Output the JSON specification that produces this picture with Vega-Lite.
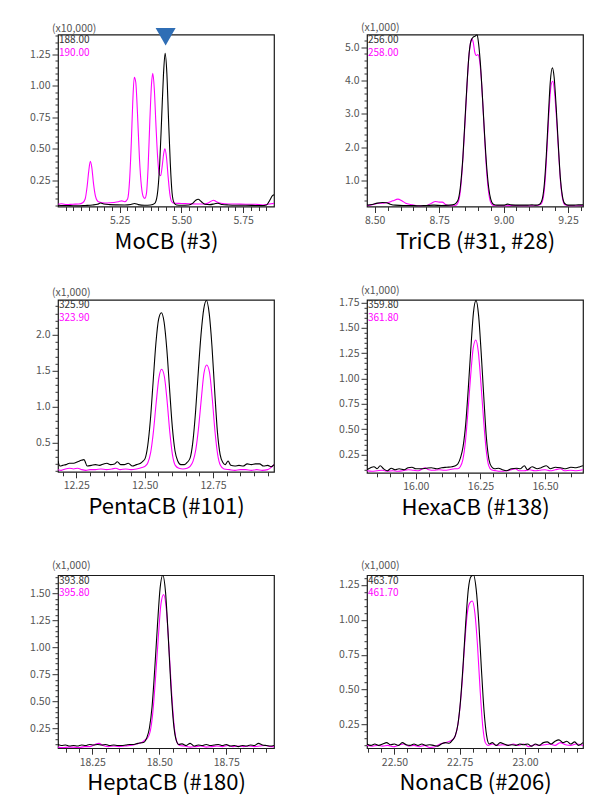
{
  "$schema": "https://vega.github.io/schema/vega-lite/v6.json",
  "padding": {"left": 27, "top": 21.5, "right": 5, "bottom": 5},
  "background": "white",
  "datasets": {
    "p1": [
      {"t":5.000,"y":0.050,"s":"k"},{"t":5.020,"y":0.048,"s":"k"},{"t":5.050,"y":0.047,"s":"k"},{"t":5.080,"y":0.045,"s":"k"},{"t":5.110,"y":0.048,"s":"k"},{"t":5.140,"y":0.052,"s":"k"},{"t":5.160,"y":0.058,"s":"k"},{"t":5.172,"y":0.068,"s":"k"},{"t":5.185,"y":0.060,"s":"k"},{"t":5.210,"y":0.055,"s":"k"},{"t":5.240,"y":0.053,"s":"k"},{"t":5.270,"y":0.052,"s":"k"},{"t":5.295,"y":0.056,"s":"k"},{"t":5.310,"y":0.064,"s":"k"},{"t":5.325,"y":0.055,"s":"k"},{"t":5.350,"y":0.050,"s":"k"},{"t":5.375,"y":0.052,"s":"k"},{"t":5.392,"y":0.065,"s":"k"},{"t":5.402,"y":0.13,"s":"k"},{"t":5.412,"y":0.38,"s":"k"},{"t":5.420,"y":0.75,"s":"k"},{"t":5.427,"y":1.08,"s":"k"},{"t":5.434,"y":1.26,"s":"k"},{"t":5.441,"y":1.10,"s":"k"},{"t":5.448,"y":0.72,"s":"k"},{"t":5.455,"y":0.38,"s":"k"},{"t":5.462,"y":0.15,"s":"k"},{"t":5.470,"y":0.07,"s":"k"},{"t":5.480,"y":0.052,"s":"k"},{"t":5.500,"y":0.050,"s":"k"},{"t":5.530,"y":0.052,"s":"k"},{"t":5.545,"y":0.065,"s":"k"},{"t":5.558,"y":0.090,"s":"k"},{"t":5.568,"y":0.098,"s":"k"},{"t":5.580,"y":0.080,"s":"k"},{"t":5.595,"y":0.058,"s":"k"},{"t":5.615,"y":0.055,"s":"k"},{"t":5.635,"y":0.062,"s":"k"},{"t":5.648,"y":0.066,"s":"k"},{"t":5.665,"y":0.056,"s":"k"},{"t":5.690,"y":0.052,"s":"k"},{"t":5.720,"y":0.050,"s":"k"},{"t":5.760,"y":0.050,"s":"k"},{"t":5.800,"y":0.048,"s":"k"},{"t":5.825,"y":0.047,"s":"k"},{"t":5.845,"y":0.052,"s":"k"},{"t":5.858,"y":0.090,"s":"k"},{"t":5.868,"y":0.125,"s":"k"},{"t":5.875,"y":0.133,"s":"k"},
      {"t":5.000,"y":0.058,"s":"m"},{"t":5.015,"y":0.062,"s":"m"},{"t":5.035,"y":0.055,"s":"m"},{"t":5.060,"y":0.058,"s":"m"},{"t":5.085,"y":0.060,"s":"m"},{"t":5.100,"y":0.070,"s":"m"},{"t":5.110,"y":0.10,"s":"m"},{"t":5.118,"y":0.20,"s":"m"},{"t":5.125,"y":0.33,"s":"m"},{"t":5.131,"y":0.40,"s":"m"},{"t":5.137,"y":0.35,"s":"m"},{"t":5.144,"y":0.22,"s":"m"},{"t":5.152,"y":0.12,"s":"m"},{"t":5.162,"y":0.08,"s":"m"},{"t":5.180,"y":0.070,"s":"m"},{"t":5.200,"y":0.068,"s":"m"},{"t":5.225,"y":0.072,"s":"m"},{"t":5.245,"y":0.078,"s":"m"},{"t":5.258,"y":0.085,"s":"m"},{"t":5.270,"y":0.078,"s":"m"},{"t":5.282,"y":0.10,"s":"m"},{"t":5.290,"y":0.25,"s":"m"},{"t":5.297,"y":0.55,"s":"m"},{"t":5.303,"y":0.88,"s":"m"},{"t":5.309,"y":1.07,"s":"m"},{"t":5.315,"y":1.03,"s":"m"},{"t":5.322,"y":0.78,"s":"m"},{"t":5.330,"y":0.42,"s":"m"},{"t":5.338,"y":0.20,"s":"m"},{"t":5.345,"y":0.12,"s":"m"},{"t":5.352,"y":0.105,"s":"m"},{"t":5.358,"y":0.14,"s":"m"},{"t":5.365,"y":0.35,"s":"m"},{"t":5.372,"y":0.72,"s":"m"},{"t":5.379,"y":1.02,"s":"m"},{"t":5.384,"y":1.10,"s":"m"},{"t":5.390,"y":0.98,"s":"m"},{"t":5.397,"y":0.68,"s":"m"},{"t":5.404,"y":0.42,"s":"m"},{"t":5.410,"y":0.30,"s":"m"},{"t":5.416,"y":0.285,"s":"m"},{"t":5.422,"y":0.36,"s":"m"},{"t":5.428,"y":0.46,"s":"m"},{"t":5.433,"y":0.50,"s":"m"},{"t":5.439,"y":0.44,"s":"m"},{"t":5.446,"y":0.28,"s":"m"},{"t":5.453,"y":0.14,"s":"m"},{"t":5.460,"y":0.08,"s":"m"},{"t":5.470,"y":0.066,"s":"m"},{"t":5.500,"y":0.064,"s":"m"},{"t":5.530,"y":0.062,"s":"m"},{"t":5.560,"y":0.060,"s":"m"},{"t":5.590,"y":0.060,"s":"m"},{"t":5.605,"y":0.065,"s":"m"},{"t":5.620,"y":0.082,"s":"m"},{"t":5.630,"y":0.090,"s":"m"},{"t":5.642,"y":0.078,"s":"m"},{"t":5.660,"y":0.066,"s":"m"},{"t":5.690,"y":0.060,"s":"m"},{"t":5.720,"y":0.060,"s":"m"},{"t":5.760,"y":0.058,"s":"m"},{"t":5.800,"y":0.058,"s":"m"},{"t":5.830,"y":0.052,"s":"m"},{"t":5.850,"y":0.058,"s":"m"},{"t":5.875,"y":0.065,"s":"m"}
    ],
    "p2": [
      {"t":8.470,"y":0.27,"s":"k"},{"t":8.490,"y":0.29,"s":"k"},{"t":8.510,"y":0.33,"s":"k"},{"t":8.530,"y":0.35,"s":"k"},{"t":8.545,"y":0.34,"s":"k"},{"t":8.560,"y":0.30,"s":"k"},{"t":8.580,"y":0.27,"s":"k"},{"t":8.610,"y":0.26,"s":"k"},{"t":8.640,"y":0.26,"s":"k"},{"t":8.670,"y":0.25,"s":"k"},{"t":8.700,"y":0.26,"s":"k"},{"t":8.730,"y":0.27,"s":"k"},{"t":8.760,"y":0.26,"s":"k"},{"t":8.790,"y":0.27,"s":"k"},{"t":8.810,"y":0.30,"s":"k"},{"t":8.822,"y":0.40,"s":"k"},{"t":8.832,"y":0.80,"s":"k"},{"t":8.842,"y":1.70,"s":"k"},{"t":8.850,"y":2.80,"s":"k"},{"t":8.858,"y":3.90,"s":"k"},{"t":8.866,"y":4.80,"s":"k"},{"t":8.874,"y":5.20,"s":"k"},{"t":8.882,"y":5.30,"s":"k"},{"t":8.890,"y":5.33,"s":"k"},{"t":8.897,"y":5.38,"s":"k"},{"t":8.903,"y":5.10,"s":"k"},{"t":8.910,"y":4.50,"s":"k"},{"t":8.918,"y":3.50,"s":"k"},{"t":8.926,"y":2.40,"s":"k"},{"t":8.934,"y":1.45,"s":"k"},{"t":8.942,"y":0.80,"s":"k"},{"t":8.950,"y":0.45,"s":"k"},{"t":8.960,"y":0.30,"s":"k"},{"t":8.975,"y":0.27,"s":"k"},{"t":9.000,"y":0.27,"s":"k"},{"t":9.015,"y":0.30,"s":"k"},{"t":9.030,"y":0.28,"s":"k"},{"t":9.060,"y":0.27,"s":"k"},{"t":9.090,"y":0.27,"s":"k"},{"t":9.110,"y":0.28,"s":"k"},{"t":9.125,"y":0.27,"s":"k"},{"t":9.140,"y":0.30,"s":"k"},{"t":9.150,"y":0.45,"s":"k"},{"t":9.158,"y":0.90,"s":"k"},{"t":9.166,"y":1.80,"s":"k"},{"t":9.174,"y":3.00,"s":"k"},{"t":9.181,"y":3.95,"s":"k"},{"t":9.189,"y":4.38,"s":"k"},{"t":9.196,"y":4.10,"s":"k"},{"t":9.204,"y":3.20,"s":"k"},{"t":9.212,"y":2.10,"s":"k"},{"t":9.220,"y":1.10,"s":"k"},{"t":9.228,"y":0.55,"s":"k"},{"t":9.237,"y":0.32,"s":"k"},{"t":9.250,"y":0.27,"s":"k"},{"t":9.270,"y":0.27,"s":"k"},{"t":9.290,"y":0.28,"s":"k"},{"t":9.308,"y":0.28,"s":"k"},
      {"t":8.470,"y":0.25,"s":"m"},{"t":8.490,"y":0.28,"s":"m"},{"t":8.510,"y":0.32,"s":"m"},{"t":8.530,"y":0.33,"s":"m"},{"t":8.550,"y":0.35,"s":"m"},{"t":8.570,"y":0.40,"s":"m"},{"t":8.590,"y":0.45,"s":"m"},{"t":8.605,"y":0.40,"s":"m"},{"t":8.620,"y":0.33,"s":"m"},{"t":8.640,"y":0.29,"s":"m"},{"t":8.670,"y":0.25,"s":"m"},{"t":8.700,"y":0.26,"s":"m"},{"t":8.720,"y":0.33,"s":"m"},{"t":8.735,"y":0.38,"s":"m"},{"t":8.750,"y":0.36,"s":"m"},{"t":8.762,"y":0.36,"s":"m"},{"t":8.775,"y":0.29,"s":"m"},{"t":8.795,"y":0.25,"s":"m"},{"t":8.815,"y":0.27,"s":"m"},{"t":8.824,"y":0.36,"s":"m"},{"t":8.833,"y":0.75,"s":"m"},{"t":8.842,"y":1.65,"s":"m"},{"t":8.850,"y":2.70,"s":"m"},{"t":8.857,"y":3.70,"s":"m"},{"t":8.864,"y":4.60,"s":"m"},{"t":8.870,"y":5.05,"s":"m"},{"t":8.876,"y":5.25,"s":"m"},{"t":8.882,"y":5.15,"s":"m"},{"t":8.888,"y":4.85,"s":"m"},{"t":8.894,"y":4.75,"s":"m"},{"t":8.900,"y":4.78,"s":"m"},{"t":8.906,"y":4.65,"s":"m"},{"t":8.913,"y":4.10,"s":"m"},{"t":8.920,"y":3.20,"s":"m"},{"t":8.927,"y":2.20,"s":"m"},{"t":8.934,"y":1.30,"s":"m"},{"t":8.942,"y":0.65,"s":"m"},{"t":8.950,"y":0.35,"s":"m"},{"t":8.960,"y":0.26,"s":"m"},{"t":8.980,"y":0.25,"s":"m"},{"t":9.010,"y":0.25,"s":"m"},{"t":9.040,"y":0.26,"s":"m"},{"t":9.070,"y":0.25,"s":"m"},{"t":9.100,"y":0.25,"s":"m"},{"t":9.130,"y":0.26,"s":"m"},{"t":9.145,"y":0.30,"s":"m"},{"t":9.154,"y":0.50,"s":"m"},{"t":9.162,"y":1.10,"s":"m"},{"t":9.170,"y":2.20,"s":"m"},{"t":9.178,"y":3.30,"s":"m"},{"t":9.185,"y":3.90,"s":"m"},{"t":9.191,"y":3.98,"s":"m"},{"t":9.197,"y":3.70,"s":"m"},{"t":9.205,"y":2.90,"s":"m"},{"t":9.213,"y":1.90,"s":"m"},{"t":9.221,"y":0.95,"s":"m"},{"t":9.229,"y":0.45,"s":"m"},{"t":9.238,"y":0.28,"s":"m"},{"t":9.255,"y":0.25,"s":"m"},{"t":9.280,"y":0.25,"s":"m"},{"t":9.308,"y":0.26,"s":"m"}
    ],
    "p3": [
      {"t":12.183,"y":0.24,"s":"k"},{"t":12.190,"y":0.17,"s":"k"},{"t":12.200,"y":0.18,"s":"k"},{"t":12.212,"y":0.19,"s":"k"},{"t":12.225,"y":0.21,"s":"k"},{"t":12.240,"y":0.21,"s":"k"},{"t":12.255,"y":0.23,"s":"k"},{"t":12.268,"y":0.25,"s":"k"},{"t":12.278,"y":0.26,"s":"k"},{"t":12.290,"y":0.17,"s":"k"},{"t":12.305,"y":0.18,"s":"k"},{"t":12.320,"y":0.19,"s":"k"},{"t":12.335,"y":0.18,"s":"k"},{"t":12.350,"y":0.20,"s":"k"},{"t":12.362,"y":0.21,"s":"k"},{"t":12.375,"y":0.19,"s":"k"},{"t":12.390,"y":0.20,"s":"k"},{"t":12.400,"y":0.23,"s":"k"},{"t":12.412,"y":0.19,"s":"k"},{"t":12.425,"y":0.19,"s":"k"},{"t":12.440,"y":0.21,"s":"k"},{"t":12.455,"y":0.17,"s":"k"},{"t":12.470,"y":0.19,"s":"k"},{"t":12.485,"y":0.21,"s":"k"},{"t":12.494,"y":0.24,"s":"k"},{"t":12.501,"y":0.27,"s":"k"},{"t":12.511,"y":0.45,"s":"k"},{"t":12.521,"y":0.82,"s":"k"},{"t":12.531,"y":1.35,"s":"k"},{"t":12.541,"y":1.88,"s":"k"},{"t":12.551,"y":2.22,"s":"k"},{"t":12.561,"y":2.31,"s":"k"},{"t":12.571,"y":2.18,"s":"k"},{"t":12.581,"y":1.80,"s":"k"},{"t":12.591,"y":1.25,"s":"k"},{"t":12.601,"y":0.72,"s":"k"},{"t":12.611,"y":0.38,"s":"k"},{"t":12.621,"y":0.24,"s":"k"},{"t":12.632,"y":0.19,"s":"k"},{"t":12.645,"y":0.19,"s":"k"},{"t":12.655,"y":0.22,"s":"k"},{"t":12.666,"y":0.28,"s":"k"},{"t":12.676,"y":0.50,"s":"k"},{"t":12.686,"y":0.92,"s":"k"},{"t":12.696,"y":1.48,"s":"k"},{"t":12.706,"y":2.00,"s":"k"},{"t":12.716,"y":2.36,"s":"k"},{"t":12.726,"y":2.48,"s":"k"},{"t":12.736,"y":2.30,"s":"k"},{"t":12.746,"y":1.85,"s":"k"},{"t":12.756,"y":1.22,"s":"k"},{"t":12.766,"y":0.65,"s":"k"},{"t":12.776,"y":0.33,"s":"k"},{"t":12.786,"y":0.22,"s":"k"},{"t":12.795,"y":0.19,"s":"k"},{"t":12.805,"y":0.24,"s":"k"},{"t":12.815,"y":0.18,"s":"k"},{"t":12.830,"y":0.17,"s":"k"},{"t":12.845,"y":0.18,"s":"k"},{"t":12.860,"y":0.17,"s":"k"},{"t":12.875,"y":0.20,"s":"k"},{"t":12.890,"y":0.19,"s":"k"},{"t":12.905,"y":0.20,"s":"k"},{"t":12.920,"y":0.20,"s":"k"},{"t":12.935,"y":0.17,"s":"k"},{"t":12.950,"y":0.18,"s":"k"},{"t":12.962,"y":0.16,"s":"k"},{"t":12.973,"y":0.19,"s":"k"},
      {"t":12.183,"y":0.12,"s":"m"},{"t":12.195,"y":0.11,"s":"m"},{"t":12.210,"y":0.13,"s":"m"},{"t":12.225,"y":0.14,"s":"m"},{"t":12.240,"y":0.13,"s":"m"},{"t":12.255,"y":0.14,"s":"m"},{"t":12.270,"y":0.12,"s":"m"},{"t":12.285,"y":0.11,"s":"m"},{"t":12.300,"y":0.12,"s":"m"},{"t":12.320,"y":0.12,"s":"m"},{"t":12.340,"y":0.13,"s":"m"},{"t":12.360,"y":0.12,"s":"m"},{"t":12.380,"y":0.13,"s":"m"},{"t":12.395,"y":0.14,"s":"m"},{"t":12.410,"y":0.12,"s":"m"},{"t":12.430,"y":0.13,"s":"m"},{"t":12.450,"y":0.12,"s":"m"},{"t":12.470,"y":0.13,"s":"m"},{"t":12.490,"y":0.15,"s":"m"},{"t":12.502,"y":0.17,"s":"m"},{"t":12.512,"y":0.22,"s":"m"},{"t":12.522,"y":0.36,"s":"m"},{"t":12.532,"y":0.65,"s":"m"},{"t":12.542,"y":1.05,"s":"m"},{"t":12.552,"y":1.40,"s":"m"},{"t":12.562,"y":1.52,"s":"m"},{"t":12.572,"y":1.42,"s":"m"},{"t":12.582,"y":1.08,"s":"m"},{"t":12.592,"y":0.64,"s":"m"},{"t":12.602,"y":0.32,"s":"m"},{"t":12.612,"y":0.18,"s":"m"},{"t":12.625,"y":0.14,"s":"m"},{"t":12.640,"y":0.13,"s":"m"},{"t":12.655,"y":0.14,"s":"m"},{"t":12.667,"y":0.17,"s":"m"},{"t":12.677,"y":0.24,"s":"m"},{"t":12.687,"y":0.40,"s":"m"},{"t":12.697,"y":0.70,"s":"m"},{"t":12.707,"y":1.10,"s":"m"},{"t":12.717,"y":1.47,"s":"m"},{"t":12.727,"y":1.58,"s":"m"},{"t":12.737,"y":1.48,"s":"m"},{"t":12.747,"y":1.12,"s":"m"},{"t":12.757,"y":0.66,"s":"m"},{"t":12.767,"y":0.33,"s":"m"},{"t":12.777,"y":0.18,"s":"m"},{"t":12.790,"y":0.13,"s":"m"},{"t":12.810,"y":0.12,"s":"m"},{"t":12.830,"y":0.11,"s":"m"},{"t":12.850,"y":0.12,"s":"m"},{"t":12.870,"y":0.12,"s":"m"},{"t":12.890,"y":0.11,"s":"m"},{"t":12.910,"y":0.12,"s":"m"},{"t":12.930,"y":0.11,"s":"m"},{"t":12.950,"y":0.12,"s":"m"},{"t":12.965,"y":0.16,"s":"m"},{"t":12.973,"y":0.19,"s":"m"}
    ],
    "p4": [
      {"t":15.811,"y":0.10,"s":"k"},{"t":15.825,"y":0.12,"s":"k"},{"t":15.838,"y":0.13,"s":"k"},{"t":15.850,"y":0.11,"s":"k"},{"t":15.862,"y":0.14,"s":"k"},{"t":15.875,"y":0.11,"s":"k"},{"t":15.890,"y":0.09,"s":"k"},{"t":15.905,"y":0.115,"s":"k"},{"t":15.920,"y":0.10,"s":"k"},{"t":15.935,"y":0.11,"s":"k"},{"t":15.955,"y":0.10,"s":"k"},{"t":15.970,"y":0.12,"s":"k"},{"t":15.985,"y":0.125,"s":"k"},{"t":16.000,"y":0.11,"s":"k"},{"t":16.020,"y":0.11,"s":"k"},{"t":16.040,"y":0.115,"s":"k"},{"t":16.060,"y":0.12,"s":"k"},{"t":16.080,"y":0.11,"s":"k"},{"t":16.100,"y":0.12,"s":"k"},{"t":16.120,"y":0.125,"s":"k"},{"t":16.140,"y":0.13,"s":"k"},{"t":16.153,"y":0.14,"s":"k"},{"t":16.163,"y":0.16,"s":"k"},{"t":16.173,"y":0.22,"s":"k"},{"t":16.183,"y":0.33,"s":"k"},{"t":16.193,"y":0.55,"s":"k"},{"t":16.203,"y":0.90,"s":"k"},{"t":16.213,"y":1.30,"s":"k"},{"t":16.223,"y":1.65,"s":"k"},{"t":16.233,"y":1.77,"s":"k"},{"t":16.243,"y":1.62,"s":"k"},{"t":16.253,"y":1.25,"s":"k"},{"t":16.263,"y":0.82,"s":"k"},{"t":16.273,"y":0.42,"s":"k"},{"t":16.283,"y":0.20,"s":"k"},{"t":16.293,"y":0.13,"s":"k"},{"t":16.305,"y":0.11,"s":"k"},{"t":16.320,"y":0.115,"s":"k"},{"t":16.335,"y":0.10,"s":"k"},{"t":16.350,"y":0.09,"s":"k"},{"t":16.370,"y":0.11,"s":"k"},{"t":16.390,"y":0.115,"s":"k"},{"t":16.405,"y":0.11,"s":"k"},{"t":16.420,"y":0.14,"s":"k"},{"t":16.432,"y":0.10,"s":"k"},{"t":16.450,"y":0.13,"s":"k"},{"t":16.470,"y":0.11,"s":"k"},{"t":16.485,"y":0.12,"s":"k"},{"t":16.505,"y":0.14,"s":"k"},{"t":16.520,"y":0.11,"s":"k"},{"t":16.540,"y":0.125,"s":"k"},{"t":16.560,"y":0.12,"s":"k"},{"t":16.580,"y":0.11,"s":"k"},{"t":16.600,"y":0.125,"s":"k"},{"t":16.620,"y":0.12,"s":"k"},{"t":16.635,"y":0.13,"s":"k"},{"t":16.647,"y":0.14,"s":"k"},
      {"t":15.811,"y":0.09,"s":"m"},{"t":15.830,"y":0.085,"s":"m"},{"t":15.850,"y":0.09,"s":"m"},{"t":15.870,"y":0.095,"s":"m"},{"t":15.890,"y":0.085,"s":"m"},{"t":15.910,"y":0.09,"s":"m"},{"t":15.930,"y":0.085,"s":"m"},{"t":15.950,"y":0.09,"s":"m"},{"t":15.970,"y":0.10,"s":"m"},{"t":15.990,"y":0.095,"s":"m"},{"t":16.010,"y":0.09,"s":"m"},{"t":16.035,"y":0.12,"s":"m"},{"t":16.050,"y":0.10,"s":"m"},{"t":16.070,"y":0.095,"s":"m"},{"t":16.090,"y":0.10,"s":"m"},{"t":16.110,"y":0.095,"s":"m"},{"t":16.130,"y":0.10,"s":"m"},{"t":16.150,"y":0.11,"s":"m"},{"t":16.162,"y":0.11,"s":"m"},{"t":16.172,"y":0.13,"s":"m"},{"t":16.182,"y":0.20,"s":"m"},{"t":16.192,"y":0.38,"s":"m"},{"t":16.202,"y":0.68,"s":"m"},{"t":16.212,"y":1.02,"s":"m"},{"t":16.222,"y":1.30,"s":"m"},{"t":16.232,"y":1.38,"s":"m"},{"t":16.242,"y":1.26,"s":"m"},{"t":16.252,"y":0.95,"s":"m"},{"t":16.262,"y":0.60,"s":"m"},{"t":16.272,"y":0.30,"s":"m"},{"t":16.282,"y":0.14,"s":"m"},{"t":16.292,"y":0.10,"s":"m"},{"t":16.310,"y":0.09,"s":"m"},{"t":16.330,"y":0.085,"s":"m"},{"t":16.350,"y":0.09,"s":"m"},{"t":16.370,"y":0.10,"s":"m"},{"t":16.385,"y":0.11,"s":"m"},{"t":16.400,"y":0.09,"s":"m"},{"t":16.420,"y":0.09,"s":"m"},{"t":16.440,"y":0.10,"s":"m"},{"t":16.460,"y":0.09,"s":"m"},{"t":16.480,"y":0.095,"s":"m"},{"t":16.500,"y":0.10,"s":"m"},{"t":16.520,"y":0.09,"s":"m"},{"t":16.540,"y":0.10,"s":"m"},{"t":16.560,"y":0.11,"s":"m"},{"t":16.575,"y":0.09,"s":"m"},{"t":16.600,"y":0.095,"s":"m"},{"t":16.620,"y":0.09,"s":"m"},{"t":16.647,"y":0.10,"s":"m"}
    ],
    "p5": [
      {"t":18.122,"y":0.10,"s":"k"},{"t":18.135,"y":0.09,"s":"k"},{"t":18.150,"y":0.095,"s":"k"},{"t":18.165,"y":0.085,"s":"k"},{"t":18.180,"y":0.09,"s":"k"},{"t":18.195,"y":0.085,"s":"k"},{"t":18.210,"y":0.095,"s":"k"},{"t":18.225,"y":0.09,"s":"k"},{"t":18.240,"y":0.10,"s":"k"},{"t":18.255,"y":0.095,"s":"k"},{"t":18.270,"y":0.10,"s":"k"},{"t":18.285,"y":0.095,"s":"k"},{"t":18.300,"y":0.10,"s":"k"},{"t":18.315,"y":0.09,"s":"k"},{"t":18.330,"y":0.095,"s":"k"},{"t":18.345,"y":0.09,"s":"k"},{"t":18.360,"y":0.09,"s":"k"},{"t":18.375,"y":0.095,"s":"k"},{"t":18.390,"y":0.10,"s":"k"},{"t":18.405,"y":0.10,"s":"k"},{"t":18.420,"y":0.11,"s":"k"},{"t":18.433,"y":0.115,"s":"k"},{"t":18.443,"y":0.12,"s":"k"},{"t":18.453,"y":0.16,"s":"k"},{"t":18.463,"y":0.25,"s":"k"},{"t":18.473,"y":0.45,"s":"k"},{"t":18.483,"y":0.80,"s":"k"},{"t":18.493,"y":1.20,"s":"k"},{"t":18.503,"y":1.55,"s":"k"},{"t":18.513,"y":1.67,"s":"k"},{"t":18.523,"y":1.52,"s":"k"},{"t":18.533,"y":1.12,"s":"k"},{"t":18.543,"y":0.65,"s":"k"},{"t":18.553,"y":0.30,"s":"k"},{"t":18.563,"y":0.14,"s":"k"},{"t":18.573,"y":0.10,"s":"k"},{"t":18.585,"y":0.105,"s":"k"},{"t":18.600,"y":0.09,"s":"k"},{"t":18.615,"y":0.11,"s":"k"},{"t":18.630,"y":0.085,"s":"k"},{"t":18.645,"y":0.095,"s":"k"},{"t":18.660,"y":0.09,"s":"k"},{"t":18.675,"y":0.10,"s":"k"},{"t":18.690,"y":0.09,"s":"k"},{"t":18.705,"y":0.095,"s":"k"},{"t":18.720,"y":0.10,"s":"k"},{"t":18.735,"y":0.09,"s":"k"},{"t":18.750,"y":0.10,"s":"k"},{"t":18.765,"y":0.085,"s":"k"},{"t":18.780,"y":0.09,"s":"k"},{"t":18.795,"y":0.08,"s":"k"},{"t":18.810,"y":0.09,"s":"k"},{"t":18.825,"y":0.085,"s":"k"},{"t":18.840,"y":0.095,"s":"k"},{"t":18.855,"y":0.09,"s":"k"},{"t":18.870,"y":0.11,"s":"k"},{"t":18.885,"y":0.095,"s":"k"},{"t":18.900,"y":0.09,"s":"k"},{"t":18.915,"y":0.085,"s":"k"},{"t":18.928,"y":0.09,"s":"k"},
      {"t":18.122,"y":0.075,"s":"m"},{"t":18.140,"y":0.07,"s":"m"},{"t":18.160,"y":0.075,"s":"m"},{"t":18.180,"y":0.075,"s":"m"},{"t":18.200,"y":0.07,"s":"m"},{"t":18.220,"y":0.08,"s":"m"},{"t":18.240,"y":0.08,"s":"m"},{"t":18.260,"y":0.10,"s":"m"},{"t":18.275,"y":0.11,"s":"m"},{"t":18.290,"y":0.09,"s":"m"},{"t":18.310,"y":0.08,"s":"m"},{"t":18.330,"y":0.085,"s":"m"},{"t":18.350,"y":0.08,"s":"m"},{"t":18.370,"y":0.085,"s":"m"},{"t":18.390,"y":0.09,"s":"m"},{"t":18.410,"y":0.10,"s":"m"},{"t":18.425,"y":0.11,"s":"m"},{"t":18.436,"y":0.12,"s":"m"},{"t":18.446,"y":0.14,"s":"m"},{"t":18.456,"y":0.16,"s":"m"},{"t":18.466,"y":0.22,"s":"m"},{"t":18.476,"y":0.40,"s":"m"},{"t":18.486,"y":0.72,"s":"m"},{"t":18.496,"y":1.08,"s":"m"},{"t":18.506,"y":1.40,"s":"m"},{"t":18.516,"y":1.49,"s":"m"},{"t":18.526,"y":1.36,"s":"m"},{"t":18.536,"y":1.00,"s":"m"},{"t":18.546,"y":0.58,"s":"m"},{"t":18.556,"y":0.26,"s":"m"},{"t":18.566,"y":0.12,"s":"m"},{"t":18.576,"y":0.09,"s":"m"},{"t":18.595,"y":0.085,"s":"m"},{"t":18.615,"y":0.075,"s":"m"},{"t":18.635,"y":0.08,"s":"m"},{"t":18.655,"y":0.085,"s":"m"},{"t":18.675,"y":0.075,"s":"m"},{"t":18.695,"y":0.08,"s":"m"},{"t":18.715,"y":0.085,"s":"m"},{"t":18.735,"y":0.08,"s":"m"},{"t":18.755,"y":0.09,"s":"m"},{"t":18.775,"y":0.08,"s":"m"},{"t":18.795,"y":0.085,"s":"m"},{"t":18.815,"y":0.08,"s":"m"},{"t":18.835,"y":0.085,"s":"m"},{"t":18.855,"y":0.08,"s":"m"},{"t":18.875,"y":0.085,"s":"m"},{"t":18.895,"y":0.09,"s":"m"},{"t":18.915,"y":0.08,"s":"m"},{"t":18.928,"y":0.08,"s":"m"}
    ],
    "p6": [
      {"t":22.395,"y":0.11,"s":"k"},{"t":22.410,"y":0.10,"s":"k"},{"t":22.425,"y":0.11,"s":"k"},{"t":22.440,"y":0.10,"s":"k"},{"t":22.455,"y":0.11,"s":"k"},{"t":22.470,"y":0.12,"s":"k"},{"t":22.485,"y":0.105,"s":"k"},{"t":22.500,"y":0.11,"s":"k"},{"t":22.515,"y":0.10,"s":"k"},{"t":22.530,"y":0.12,"s":"k"},{"t":22.545,"y":0.105,"s":"k"},{"t":22.560,"y":0.10,"s":"k"},{"t":22.575,"y":0.11,"s":"k"},{"t":22.590,"y":0.10,"s":"k"},{"t":22.605,"y":0.11,"s":"k"},{"t":22.620,"y":0.10,"s":"k"},{"t":22.635,"y":0.105,"s":"k"},{"t":22.650,"y":0.10,"s":"k"},{"t":22.665,"y":0.095,"s":"k"},{"t":22.680,"y":0.11,"s":"k"},{"t":22.695,"y":0.12,"s":"k"},{"t":22.710,"y":0.115,"s":"k"},{"t":22.723,"y":0.14,"s":"k"},{"t":22.733,"y":0.17,"s":"k"},{"t":22.743,"y":0.25,"s":"k"},{"t":22.753,"y":0.42,"s":"k"},{"t":22.763,"y":0.68,"s":"k"},{"t":22.773,"y":0.98,"s":"k"},{"t":22.783,"y":1.22,"s":"k"},{"t":22.793,"y":1.31,"s":"k"},{"t":22.803,"y":1.32,"s":"k"},{"t":22.813,"y":1.22,"s":"k"},{"t":22.823,"y":0.98,"s":"k"},{"t":22.833,"y":0.65,"s":"k"},{"t":22.843,"y":0.35,"s":"k"},{"t":22.853,"y":0.17,"s":"k"},{"t":22.863,"y":0.11,"s":"k"},{"t":22.875,"y":0.12,"s":"k"},{"t":22.890,"y":0.10,"s":"k"},{"t":22.905,"y":0.12,"s":"k"},{"t":22.920,"y":0.11,"s":"k"},{"t":22.935,"y":0.10,"s":"k"},{"t":22.950,"y":0.105,"s":"k"},{"t":22.965,"y":0.10,"s":"k"},{"t":22.980,"y":0.11,"s":"k"},{"t":22.995,"y":0.105,"s":"k"},{"t":23.010,"y":0.11,"s":"k"},{"t":23.025,"y":0.095,"s":"k"},{"t":23.040,"y":0.11,"s":"k"},{"t":23.055,"y":0.10,"s":"k"},{"t":23.070,"y":0.12,"s":"k"},{"t":23.085,"y":0.125,"s":"k"},{"t":23.100,"y":0.11,"s":"k"},{"t":23.115,"y":0.13,"s":"k"},{"t":23.130,"y":0.14,"s":"k"},{"t":23.145,"y":0.12,"s":"k"},{"t":23.160,"y":0.13,"s":"k"},{"t":23.175,"y":0.11,"s":"k"},{"t":23.190,"y":0.125,"s":"k"},{"t":23.205,"y":0.10,"s":"k"},{"t":23.222,"y":0.12,"s":"k"},
      {"t":22.395,"y":0.10,"s":"m"},{"t":22.415,"y":0.095,"s":"m"},{"t":22.435,"y":0.10,"s":"m"},{"t":22.455,"y":0.095,"s":"m"},{"t":22.475,"y":0.10,"s":"m"},{"t":22.495,"y":0.09,"s":"m"},{"t":22.515,"y":0.10,"s":"m"},{"t":22.535,"y":0.11,"s":"m"},{"t":22.555,"y":0.095,"s":"m"},{"t":22.575,"y":0.10,"s":"m"},{"t":22.595,"y":0.09,"s":"m"},{"t":22.615,"y":0.10,"s":"m"},{"t":22.635,"y":0.085,"s":"m"},{"t":22.655,"y":0.09,"s":"m"},{"t":22.675,"y":0.11,"s":"m"},{"t":22.695,"y":0.12,"s":"m"},{"t":22.712,"y":0.13,"s":"m"},{"t":22.728,"y":0.15,"s":"m"},{"t":22.738,"y":0.20,"s":"m"},{"t":22.748,"y":0.32,"s":"m"},{"t":22.758,"y":0.52,"s":"m"},{"t":22.768,"y":0.80,"s":"m"},{"t":22.778,"y":1.03,"s":"m"},{"t":22.788,"y":1.12,"s":"m"},{"t":22.798,"y":1.135,"s":"m"},{"t":22.808,"y":1.05,"s":"m"},{"t":22.818,"y":0.82,"s":"m"},{"t":22.828,"y":0.50,"s":"m"},{"t":22.838,"y":0.24,"s":"m"},{"t":22.848,"y":0.12,"s":"m"},{"t":22.858,"y":0.10,"s":"m"},{"t":22.875,"y":0.11,"s":"m"},{"t":22.895,"y":0.10,"s":"m"},{"t":22.915,"y":0.105,"s":"m"},{"t":22.935,"y":0.10,"s":"m"},{"t":22.955,"y":0.11,"s":"m"},{"t":22.975,"y":0.10,"s":"m"},{"t":22.995,"y":0.11,"s":"m"},{"t":23.015,"y":0.09,"s":"m"},{"t":23.035,"y":0.105,"s":"m"},{"t":23.055,"y":0.10,"s":"m"},{"t":23.075,"y":0.105,"s":"m"},{"t":23.095,"y":0.11,"s":"m"},{"t":23.115,"y":0.10,"s":"m"},{"t":23.135,"y":0.12,"s":"m"},{"t":23.155,"y":0.105,"s":"m"},{"t":23.175,"y":0.10,"s":"m"},{"t":23.195,"y":0.11,"s":"m"},{"t":23.222,"y":0.10,"s":"m"}
    ]
  },
  "vconcat": [
    {
      "vconcat": [
        {
          "hconcat": [
            {
              "width": 216, "height": 172,
              "title": {"text": "(x10,000)", "dy": 7.5},
              "data": {"name": "p1"},
              "layer": [
                {"transform": [{"filter": "datum.s == 'm'"}], "mark": {"type": "line", "color": "#ff00ff", "strokeWidth": 1.1, "interpolate": "monotone", "clip": true},
                 "encoding": {
                   "x": {"field": "t", "type": "quantitative", "scale": {"domain": [5.0, 5.875], "nice": false, "zero": false},
                         "axis": {"title": "MoCB (#3)", "tickCount": 200, "labelOverlap": false, "values": [5.03125,5.0625,5.09375,5.125,5.15625,5.1875,5.21875,5.25,5.28125,5.3125,5.34375,5.375,5.40625,5.4375,5.46875,5.5,5.53125,5.5625,5.59375,5.625,5.65625,5.6875,5.71875,5.75,5.78125,5.8125,5.84375],
                                  "labelExpr": "abs(datum.value*4 - round(datum.value*4)) < 0.001 ? format(datum.value, '.2f') : ''",
                                  "tickSize": {"condition": {"test": "abs(datum.value*4 - round(datum.value*4)) < 0.001", "value": 6}, "value": 4}}},
                   "y": {"field": "y", "type": "quantitative", "scale": {"domain": [0.04, 1.41], "nice": false, "zero": false},
                         "axis": {"title": null, "tickCount": 200, "labelOverlap": false, "values": [0.05,0.1,0.15,0.2,0.25,0.3,0.35,0.4,0.45,0.5,0.55,0.6,0.65,0.7,0.75,0.8,0.85,0.9,0.95,1,1.05,1.1,1.15,1.2,1.25,1.3,1.35,1.4],
                                  "labelExpr": "abs(datum.value*4 - round(datum.value*4)) < 0.001 ? format(datum.value, '.2f') : ''",
                                  "tickSize": {"condition": {"test": "abs(datum.value*4 - round(datum.value*4)) < 0.001", "value": 6}, "value": 3}}}
                 }},
                {"transform": [{"filter": "datum.s == 'k'"}], "mark": {"type": "line", "color": "#000000", "strokeWidth": 1.1, "interpolate": "monotone", "clip": true},
                 "encoding": {"x": {"field": "t", "type": "quantitative"}, "y": {"field": "y", "type": "quantitative"}}},
                {"data": {"values": [{"lab": "188.00"}]}, "mark": {"type": "text", "align": "left", "baseline": "top", "dx": 1, "dy": 0.3, "color": "#333333", "fontSize": 10},
                 "encoding": {"x": {"datum": 5.0, "type": "quantitative"}, "y": {"datum": 1.41, "type": "quantitative"}, "text": {"field": "lab"}}},
                {"data": {"values": [{"lab": "190.00"}]}, "mark": {"type": "text", "align": "left", "baseline": "top", "dx": 1, "dy": 13, "color": "#ff00ff", "fontSize": 10},
                 "encoding": {"x": {"datum": 5.0, "type": "quantitative"}, "y": {"datum": 1.41, "type": "quantitative"}, "text": {"field": "lab"}}},
                {"data": {"values": [{"t": 5.436, "y": 1.392}]}, "mark": {"type": "point", "shape": "triangle-down", "filled": true, "size": 400, "color": "#2f6eb5", "opacity": 1},
                 "encoding": {"x": {"field": "t", "type": "quantitative"}, "y": {"field": "y", "type": "quantitative"}}}
              ]
            },
            {
              "width": 216, "height": 172,
              "title": {"text": "(x1,000)"},
              "data": {"name": "p2"},
              "layer": [
                {"transform": [{"filter": "datum.s == 'm'"}], "mark": {"type": "line", "color": "#ff00ff", "strokeWidth": 1.1, "interpolate": "monotone", "clip": true},
                 "encoding": {
                   "x": {"field": "t", "type": "quantitative", "scale": {"domain": [8.47, 9.308], "nice": false, "zero": false},
                         "axis": {"title": "TriCB (#31, #28)", "tickCount": 200, "labelOverlap": false, "values": [8.5,8.55,8.6,8.65,8.7,8.75,8.8,8.85,8.9,8.95,9,9.05,9.1,9.15,9.2,9.25,9.3],
                                  "labelExpr": "abs(datum.value*4 - round(datum.value*4)) < 0.001 ? format(datum.value, '.2f') : ''",
                                  "tickSize": {"condition": {"test": "abs(datum.value*4 - round(datum.value*4)) < 0.001", "value": 6}, "value": 4}}},
                   "y": {"field": "y", "type": "quantitative", "scale": {"domain": [0.23, 5.38], "nice": false, "zero": false},
                         "axis": {"title": null, "tickCount": 200, "labelOverlap": false, "values": [0.4,0.6,0.8,1,1.2,1.4,1.6,1.8,2,2.2,2.4,2.6,2.8,3,3.2,3.4,3.6,3.8,4,4.2,4.4,4.6,4.8,5,5.2],
                                  "labelExpr": "abs(datum.value - round(datum.value)) < 0.001 ? format(datum.value, '.1f') : ''",
                                  "tickSize": {"condition": {"test": "abs(datum.value - round(datum.value)) < 0.001", "value": 6}, "value": 3}}}
                 }},
                {"transform": [{"filter": "datum.s == 'k'"}], "mark": {"type": "line", "color": "#000000", "strokeWidth": 1.1, "interpolate": "monotone", "clip": true},
                 "encoding": {"x": {"field": "t", "type": "quantitative"}, "y": {"field": "y", "type": "quantitative"}}},
                {"data": {"values": [{"lab": "256.00"}]}, "mark": {"type": "text", "align": "left", "baseline": "top", "dx": 1, "dy": 0.3, "color": "#333333", "fontSize": 10},
                 "encoding": {"x": {"datum": 8.47, "type": "quantitative"}, "y": {"datum": 5.38, "type": "quantitative"}, "text": {"field": "lab"}}},
                {"data": {"values": [{"lab": "258.00"}]}, "mark": {"type": "text", "align": "left", "baseline": "top", "dx": 1, "dy": 13, "color": "#ff00ff", "fontSize": 10},
                 "encoding": {"x": {"datum": 8.47, "type": "quantitative"}, "y": {"datum": 5.38, "type": "quantitative"}, "text": {"field": "lab"}}}
              ]
            }
          ],
          "spacing": 61
        },
        {
          "hconcat": [
            {
              "width": 216, "height": 172,
              "title": {"text": "(x1,000)"},
              "data": {"name": "p3"},
              "layer": [
                {"transform": [{"filter": "datum.s == 'm'"}], "mark": {"type": "line", "color": "#ff00ff", "strokeWidth": 1.1, "interpolate": "monotone", "clip": true},
                 "encoding": {
                   "x": {"field": "t", "type": "quantitative", "scale": {"domain": [12.183, 12.973], "nice": false, "zero": false},
                         "axis": {"title": "PentaCB (#101)", "tickCount": 200, "labelOverlap": false, "values": [12.2,12.25,12.3,12.35,12.4,12.45,12.5,12.55,12.6,12.65,12.7,12.75,12.8,12.85,12.9,12.95],
                                  "labelExpr": "abs(datum.value*4 - round(datum.value*4)) < 0.001 ? format(datum.value, '.2f') : ''",
                                  "tickSize": {"condition": {"test": "abs(datum.value*4 - round(datum.value*4)) < 0.001", "value": 6}, "value": 4}}},
                   "y": {"field": "y", "type": "quantitative", "scale": {"domain": [0.09, 2.49], "nice": false, "zero": false},
                         "axis": {"title": null, "tickCount": 200, "labelOverlap": false, "values": [0.1,0.2,0.3,0.4,0.5,0.6,0.7,0.8,0.9,1,1.1,1.2,1.3,1.4,1.5,1.6,1.7,1.8,1.9,2,2.1,2.2,2.3,2.4],
                                  "labelExpr": "abs(datum.value*2 - round(datum.value*2)) < 0.001 ? format(datum.value, '.1f') : ''",
                                  "tickSize": {"condition": {"test": "abs(datum.value*2 - round(datum.value*2)) < 0.001", "value": 6}, "value": 3}}}
                 }},
                {"transform": [{"filter": "datum.s == 'k'"}], "mark": {"type": "line", "color": "#000000", "strokeWidth": 1.1, "interpolate": "monotone", "clip": true},
                 "encoding": {"x": {"field": "t", "type": "quantitative"}, "y": {"field": "y", "type": "quantitative"}}},
                {"data": {"values": [{"lab": "325.90"}]}, "mark": {"type": "text", "align": "left", "baseline": "top", "dx": 1, "dy": 0.3, "color": "#333333", "fontSize": 10},
                 "encoding": {"x": {"datum": 12.183, "type": "quantitative"}, "y": {"datum": 2.49, "type": "quantitative"}, "text": {"field": "lab"}}},
                {"data": {"values": [{"lab": "323.90"}]}, "mark": {"type": "text", "align": "left", "baseline": "top", "dx": 1, "dy": 13, "color": "#ff00ff", "fontSize": 10},
                 "encoding": {"x": {"datum": 12.183, "type": "quantitative"}, "y": {"datum": 2.49, "type": "quantitative"}, "text": {"field": "lab"}}}
              ]
            },
            {
              "width": 216, "height": 173,
              "title": {"text": "(x1,000)"},
              "data": {"name": "p4"},
              "layer": [
                {"transform": [{"filter": "datum.s == 'm'"}], "mark": {"type": "line", "color": "#ff00ff", "strokeWidth": 1.1, "interpolate": "monotone", "clip": true},
                 "encoding": {
                   "x": {"field": "t", "type": "quantitative", "scale": {"domain": [15.811, 16.647], "nice": false, "zero": false},
                         "axis": {"title": "HexaCB (#138)", "tickCount": 200, "labelOverlap": false, "values": [15.85,15.9,15.95,16,16.05,16.1,16.15,16.2,16.25,16.3,16.35,16.4,16.45,16.5,16.55,16.6],
                                  "labelExpr": "abs(datum.value*4 - round(datum.value*4)) < 0.001 ? format(datum.value, '.2f') : ''",
                                  "tickSize": {"condition": {"test": "abs(datum.value*4 - round(datum.value*4)) < 0.001", "value": 6}, "value": 4}}},
                   "y": {"field": "y", "type": "quantitative", "scale": {"domain": [0.07, 1.776], "nice": false, "zero": false},
                         "axis": {"title": null, "tickCount": 200, "labelOverlap": false, "values": [0.1,0.15,0.2,0.25,0.3,0.35,0.4,0.45,0.5,0.55,0.6,0.65,0.7,0.75,0.8,0.85,0.9,0.95,1,1.05,1.1,1.15,1.2,1.25,1.3,1.35,1.4,1.45,1.5,1.55,1.6,1.65,1.7,1.75],
                                  "labelExpr": "abs(datum.value*4 - round(datum.value*4)) < 0.001 ? format(datum.value, '.2f') : ''",
                                  "tickSize": {"condition": {"test": "abs(datum.value*4 - round(datum.value*4)) < 0.001", "value": 6}, "value": 3}}}
                 }},
                {"transform": [{"filter": "datum.s == 'k'"}], "mark": {"type": "line", "color": "#000000", "strokeWidth": 1.1, "interpolate": "monotone", "clip": true},
                 "encoding": {"x": {"field": "t", "type": "quantitative"}, "y": {"field": "y", "type": "quantitative"}}},
                {"data": {"values": [{"lab": "359.80"}]}, "mark": {"type": "text", "align": "left", "baseline": "top", "dx": 1, "dy": 0.3, "color": "#333333", "fontSize": 10},
                 "encoding": {"x": {"datum": 15.811, "type": "quantitative"}, "y": {"datum": 1.776, "type": "quantitative"}, "text": {"field": "lab"}}},
                {"data": {"values": [{"lab": "361.80"}]}, "mark": {"type": "text", "align": "left", "baseline": "top", "dx": 1, "dy": 13, "color": "#ff00ff", "fontSize": 10},
                 "encoding": {"x": {"datum": 15.811, "type": "quantitative"}, "y": {"datum": 1.776, "type": "quantitative"}, "text": {"field": "lab"}}}
              ]
            }
          ],
          "spacing": 61
        }
      ],
      "spacing": 31.3
    },
    {
      "hconcat": [
        {
          "width": 216, "height": 173,
          "title": {"text": "(x1,000)"},
          "data": {"name": "p5"},
          "layer": [
            {"transform": [{"filter": "datum.s == 'm'"}], "mark": {"type": "line", "color": "#ff00ff", "strokeWidth": 1.1, "interpolate": "monotone", "clip": true},
             "encoding": {
               "x": {"field": "t", "type": "quantitative", "scale": {"domain": [18.122, 18.928], "nice": false, "zero": false},
                     "axis": {"title": "HeptaCB (#180)", "tickCount": 200, "labelOverlap": false, "values": [18.15,18.2,18.25,18.3,18.35,18.4,18.45,18.5,18.55,18.6,18.65,18.7,18.75,18.8,18.85,18.9],
                              "labelExpr": "abs(datum.value*4 - round(datum.value*4)) < 0.001 ? format(datum.value, '.2f') : ''",
                              "tickSize": {"condition": {"test": "abs(datum.value*4 - round(datum.value*4)) < 0.001", "value": 6}, "value": 4}}},
               "y": {"field": "y", "type": "quantitative", "scale": {"domain": [0.065, 1.67], "nice": false, "zero": false},
                     "axis": {"title": null, "tickCount": 200, "labelOverlap": false, "values": [0.1,0.15,0.2,0.25,0.3,0.35,0.4,0.45,0.5,0.55,0.6,0.65,0.7,0.75,0.8,0.85,0.9,0.95,1,1.05,1.1,1.15,1.2,1.25,1.3,1.35,1.4,1.45,1.5,1.55,1.6,1.65],
                              "labelExpr": "abs(datum.value*4 - round(datum.value*4)) < 0.001 ? format(datum.value, '.2f') : ''",
                              "tickSize": {"condition": {"test": "abs(datum.value*4 - round(datum.value*4)) < 0.001", "value": 6}, "value": 3}}}
             }},
            {"transform": [{"filter": "datum.s == 'k'"}], "mark": {"type": "line", "color": "#000000", "strokeWidth": 1.1, "interpolate": "monotone", "clip": true},
             "encoding": {"x": {"field": "t", "type": "quantitative"}, "y": {"field": "y", "type": "quantitative"}}},
            {"data": {"values": [{"lab": "393.80"}]}, "mark": {"type": "text", "align": "left", "baseline": "top", "dx": 1, "dy": 0.3, "color": "#333333", "fontSize": 10},
             "encoding": {"x": {"datum": 18.122, "type": "quantitative"}, "y": {"datum": 1.67, "type": "quantitative"}, "text": {"field": "lab"}}},
            {"data": {"values": [{"lab": "395.80"}]}, "mark": {"type": "text", "align": "left", "baseline": "top", "dx": 1, "dy": 13, "color": "#ff00ff", "fontSize": 10},
             "encoding": {"x": {"datum": 18.122, "type": "quantitative"}, "y": {"datum": 1.67, "type": "quantitative"}, "text": {"field": "lab"}}}
          ]
        },
        {
          "width": 216, "height": 173,
          "title": {"text": "(x1,000)"},
          "data": {"name": "p6"},
          "layer": [
            {"transform": [{"filter": "datum.s == 'm'"}], "mark": {"type": "line", "color": "#ff00ff", "strokeWidth": 1.1, "interpolate": "monotone", "clip": true},
             "encoding": {
               "x": {"field": "t", "type": "quantitative", "scale": {"domain": [22.395, 23.222], "nice": false, "zero": false},
                     "axis": {"title": "NonaCB (#206)", "tickCount": 200, "labelOverlap": false, "values": [22.4,22.45,22.5,22.55,22.6,22.65,22.7,22.75,22.8,22.85,22.9,22.95,23,23.05,23.1,23.15,23.2],
                              "labelExpr": "abs(datum.value*4 - round(datum.value*4)) < 0.001 ? format(datum.value, '.2f') : ''",
                              "tickSize": {"condition": {"test": "abs(datum.value*4 - round(datum.value*4)) < 0.001", "value": 6}, "value": 4}}},
               "y": {"field": "y", "type": "quantitative", "scale": {"domain": [0.08, 1.32], "nice": false, "zero": false},
                     "axis": {"title": null, "tickCount": 200, "labelOverlap": false, "values": [0.1,0.15,0.2,0.25,0.3,0.35,0.4,0.45,0.5,0.55,0.6,0.65,0.7,0.75,0.8,0.85,0.9,0.95,1,1.05,1.1,1.15,1.2,1.25,1.3],
                              "labelExpr": "abs(datum.value*4 - round(datum.value*4)) < 0.001 ? format(datum.value, '.2f') : ''",
                              "tickSize": {"condition": {"test": "abs(datum.value*4 - round(datum.value*4)) < 0.001", "value": 6}, "value": 3}}}
             }},
            {"transform": [{"filter": "datum.s == 'k'"}], "mark": {"type": "line", "color": "#000000", "strokeWidth": 1.1, "interpolate": "monotone", "clip": true},
             "encoding": {"x": {"field": "t", "type": "quantitative"}, "y": {"field": "y", "type": "quantitative"}}},
            {"data": {"values": [{"lab": "463.70"}]}, "mark": {"type": "text", "align": "left", "baseline": "top", "dx": 1, "dy": 0.3, "color": "#333333", "fontSize": 10},
             "encoding": {"x": {"datum": 22.395, "type": "quantitative"}, "y": {"datum": 1.32, "type": "quantitative"}, "text": {"field": "lab"}}},
            {"data": {"values": [{"lab": "461.70"}]}, "mark": {"type": "text", "align": "left", "baseline": "top", "dx": 1, "dy": 13, "color": "#ff00ff", "fontSize": 10},
             "encoding": {"x": {"datum": 22.395, "type": "quantitative"}, "y": {"datum": 1.32, "type": "quantitative"}, "text": {"field": "lab"}}}
          ]
        }
      ],
      "spacing": 61
    }
  ],
  "spacing": 40.7,
  "config": {
    "font": "Noto Sans CJK JP",
    "view": {"stroke": "#1a1a1a", "strokeWidth": 1.2},
    "axis": {"grid": false, "domain": false, "labelFont": "Noto Sans CJK JP", "labelFontSize": 10.5, "labelColor": "#555555", "tickColor": "#333333", "tickWidth": 1, "labelOverlap": false, "labelFlush": false, "labelPadding": 2, "titleFont": "Noto Sans CJK JP", "titleFontWeight": "normal", "titleColor": "#000000", "titleFontSize": 22},
    "axisX": {"titlePadding": 5, "labelPadding": 3},
    "axisY": {"minExtent": 30, "maxExtent": 30},
    "title": {"font": "Noto Sans CJK JP", "fontSize": 10.5, "fontWeight": "normal", "color": "#555555", "anchor": "start", "baseline": "bottom", "offset": 1, "dx": -6, "dy": 0, "frame": "group"},
    "text": {"font": "Noto Sans CJK JP", "fontSize": 10}
  }
}
